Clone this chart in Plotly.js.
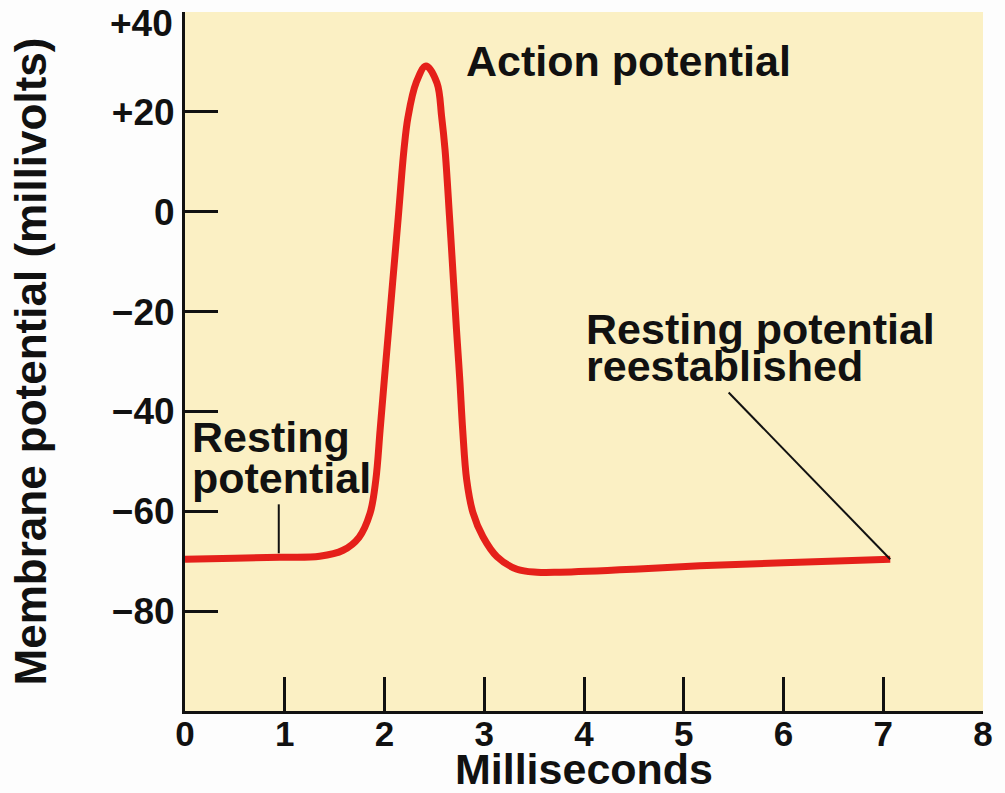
<!DOCTYPE html>
<html>
<head>
<meta charset="utf-8">
<script src="https://cdn.plot.ly/plotly-3.0.1.min.js"></script>
<style>html,body{margin:0;padding:0;background:#fdfdfd;}#chart{width:1005px;height:793px;}</style>
</head>
<body>
<div id="chart"></div>
<script>
// Membrane potential trace (ms, mV)
const timeMs = [0, 0.5, 0.95, 1.35, 1.585, 1.745, 1.855, 1.913, 1.956, 1.998, 2.041, 2.081, 2.138, 2.195, 2.236, 2.316, 2.416, 2.526, 2.573, 2.607, 2.652, 2.693, 2.722, 2.755, 2.784, 2.824, 2.887, 2.987, 3.128, 3.328, 3.529, 3.76, 4.5, 5.16, 6.0, 7.07];
const potentialMv = [-69.6, -69.4, -69.2, -69.0, -67.8, -65.2, -60.4, -53.7, -43.7, -33.7, -23.7, -14.3, -1.1, 12.4, 19.0, 25.8, 29.2, 25.8, 19.0, 12.4, -1.1, -14.3, -23.7, -33.7, -43.7, -53.7, -60.3, -65.1, -69.1, -71.6, -72.2, -72.2, -71.6, -70.9, -70.3, -69.6];

// pointer lines for labels
const restPointerX = [0.94, 0.94];
const restPointerY = [-58.6, -68.4];
const reestPointerX = [5.45, 7.07];
const reestPointerY = [-36.2, -69.6];

// axis ticks
const xTickVals = [0, 1, 2, 3, 4, 5, 6, 7, 8];
const xTickText = ["0", "1", "2", "3", "4", "5", "6", "7", "8"];
const yTickVals = [40, 20, 0, -20, -40, -60, -80];
const yTickText = ["+40", "+20", "0", "\u221220", "\u221240", "\u221260", "\u221280"];

// label texts and anchors (x ms, y mV)
const labelTexts = ["Action potential", "Resting potential", "reestablished", "Resting", "potential"];
const labelX = [2.80, 4.0, 4.0, 0.05, 0.05];
const labelY = [30.2, -23.4, -30.8, -45.2, -53.4];

const FONT = "Liberation Sans, Arial, Helvetica, sans-serif";

const traces = [
  {x: timeMs, y: potentialMv, mode: "lines", line: {color: "#E5201A", width: 7, shape: "spline", smoothing: 1}, hoverinfo: "skip"},
  {x: restPointerX, y: restPointerY, mode: "lines", line: {color: "#111", width: 2}, hoverinfo: "skip"},
  {x: reestPointerX, y: reestPointerY, mode: "lines", line: {color: "#111", width: 2}, hoverinfo: "skip"}
];

const annotations = labelTexts.map((t, i) => ({
  x: labelX[i], y: labelY[i], xref: "x", yref: "y", text: t, showarrow: false,
  xanchor: "left", yanchor: "middle",
  font: {family: FONT, size: 43, color: "#111", weight: 700}
}));

// the top tick label (+40) sits just below its tick so it stays inside the picture
const topIdx = 0;
const yTickTextShown = yTickText.map((t, i) => i === topIdx ? "" : t);
annotations.push({
  x: 0, xref: "paper", xanchor: "right", xshift: -10,
  y: yTickVals[topIdx], yref: "y", yanchor: "top", yshift: 11,
  text: yTickText[topIdx], showarrow: false,
  font: {family: FONT, size: 37, color: "#111", weight: 700}
});

const layout = {
  width: 1005, height: 793,
  margin: {l: 185, r: 22, t: 12, b: 82},
  paper_bgcolor: "#fdfdfd",
  plot_bgcolor: "#FBF0C4",
  showlegend: false,
  font: {family: FONT, color: "#111", weight: 700},
  xaxis: {
    range: [0, 8], tickvals: xTickVals, ticktext: xTickText,
    ticks: "inside", ticklen: 34, tickwidth: 3, tickcolor: "#111",
    showline: true, linecolor: "#111", linewidth: 3,
    showgrid: false, zeroline: false, automargin: false,
    ticklabeloverflow: "allow", ticklabelstandoff: -10,
    tickfont: {family: FONT, size: 35, color: "#111", weight: 700},
    title: {text: "Milliseconds", standoff: 0, font: {family: FONT, size: 43, color: "#111", weight: 700}}
  },
  yaxis: {
    range: [-100, 40.02], tickvals: yTickVals, ticktext: yTickTextShown,
    ticks: "inside", ticklen: 33, tickwidth: 3, tickcolor: "#111",
    showline: true, linecolor: "#111", linewidth: 3,
    showgrid: false, zeroline: false, automargin: false,
    ticklabeloverflow: "allow",
    tickfont: {family: FONT, size: 37, color: "#111", weight: 700},
    title: {text: "Membrane potential (millivolts)", standoff: 52, font: {family: FONT, size: 44, color: "#111", weight: 700}}
  },
  annotations: annotations
};

Plotly.newPlot("chart", traces, layout, {displayModeBar: false, staticPlot: true});
</script>
</body>
</html>
